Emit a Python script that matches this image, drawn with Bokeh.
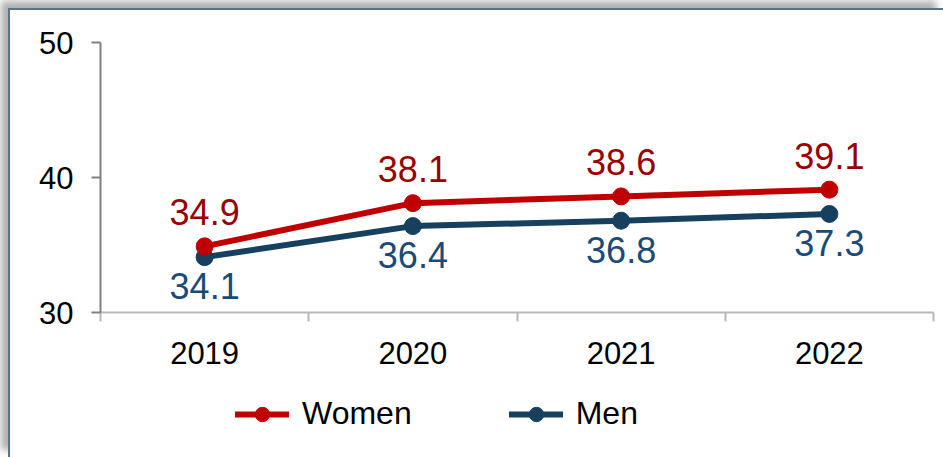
from bokeh.plotting import figure
from bokeh.layouts import column
from bokeh.models import Range1d, FixedTicker, Legend, LegendItem, ColumnDataSource
from bokeh.core.properties import value
from bokeh.embed import file_html
from bokeh.resources import INLINE

years = ["2019", "2020", "2021", "2022"]
women = [34.9, 38.1, 38.6, 39.1]
men = [34.1, 36.4, 36.8, 37.3]
y_ticks = [30, 40, 50]

FONT = "Liberation Sans"
RED = "#c00000"
RED_TXT = "#990000"
NAVY = "#17405f"
NAVY_TXT = "#1a4a78"

xs = [i + 0.5 for i in range(len(years))]

p = figure(width=933, height=373, output_backend="svg", toolbar_location=None,
           x_range=Range1d(0, len(years)), y_range=Range1d(30, 50),
           min_border_left=90, min_border_right=10, min_border_top=32, min_border_bottom=71)
p.grid.visible = False
p.outline_line_color = None
p.background_fill_color = "white"
p.border_fill_color = "white"

# y axis
ya = p.yaxis[0]
ya.ticker = FixedTicker(ticks=y_ticks, minor_ticks=[])
ya.axis_line_color = "#808080"
ya.axis_line_width = 2
ya.major_tick_line_color = "#808080"
ya.major_tick_line_width = 2
ya.major_tick_out = 9
ya.major_tick_in = 0
ya.minor_tick_line_color = None
ya.major_label_text_font = FONT
ya.major_label_text_font_size = "31px"
ya.major_label_text_color = "black"
ya.major_label_standoff = 18

# x axis
xa = p.xaxis[0]
xa.ticker = FixedTicker(ticks=xs, minor_ticks=list(range(len(years) + 1)))
xa.major_label_overrides = {x: y for x, y in zip(xs, years)}
xa.axis_line_color = "#b8b8b8"
xa.axis_line_width = 2
xa.major_tick_line_color = None
xa.major_tick_out = 0
xa.major_tick_in = 0
xa.minor_tick_line_color = "#b8b8b8"
xa.minor_tick_line_width = 2
xa.minor_tick_out = 9
xa.minor_tick_in = 0
xa.major_label_text_font = FONT
xa.major_label_text_font_size = "31px"
xa.major_label_text_color = "black"
xa.major_label_standoff = 20

src = ColumnDataSource(dict(x=xs, women=women, men=men,
                            wl=[f"{v:.1f}" for v in women],
                            ml=[f"{v:.1f}" for v in men]))

p.line("x", "men", source=src, line_color=NAVY, line_width=6)
p.scatter("x", "men", source=src, size=17, fill_color=NAVY, line_color=NAVY)
p.line("x", "women", source=src, line_color=RED, line_width=6)
p.scatter("x", "women", source=src, size=17, fill_color=RED, line_color=RED)

p.text("x", "women", text="wl", source=src, text_font=value(FONT), text_font_size="36px",
       text_color=RED_TXT, text_align="center", text_baseline="middle", y_offset=-34)
p.text("x", "men", text="ml", source=src, text_font=value(FONT), text_font_size="36px",
       text_color=NAVY_TXT, text_align="center", text_baseline="middle", y_offset=29)

# legend strip below the chart (its series lie outside this strip's range, so only the key shows)
lf = figure(width=933, height=74, output_backend="svg", toolbar_location=None,
            x_range=Range1d(0, len(years)), y_range=Range1d(0, 1),
            x_axis_type=None, y_axis_type=None, min_border=0)
lf.grid.visible = False
lf.outline_line_color = None
lf.border_fill_color = "white"
lw = lf.line("x", "women", source=src, line_color=RED, line_width=6, line_cap="round")
lws = lf.scatter("x", "women", source=src, size=17, fill_color=RED, line_color=RED)
lm = lf.line("x", "men", source=src, line_color=NAVY, line_width=6, line_cap="round")
lms = lf.scatter("x", "men", source=src, size=17, fill_color=NAVY, line_color=NAVY)

legend = Legend(items=[LegendItem(label="Women", renderers=[lw, lws]),
                       LegendItem(label="Men", renderers=[lm, lms])],
                orientation="horizontal", location=(135, 25),
                label_text_font=FONT, label_text_font_size="32px",
                label_text_color="black", label_standoff=13,
                glyph_width=54, glyph_height=36, spacing=97,
                padding=0, margin=0, border_line_color=None,
                background_fill_alpha=0)
lf.add_layout(legend, "center")

layout = column(p, lf, spacing=0)
layout.styles = {"margin-left": "8px", "margin-top": "8px",
                 "border-top": "2px solid #5d7386", "border-left": "2px solid #5d7386",
                 "box-shadow": "-7px -7px 7px #b0b0b0", "background": "white"}

open("out.html", "w").write(file_html(layout, INLINE))
